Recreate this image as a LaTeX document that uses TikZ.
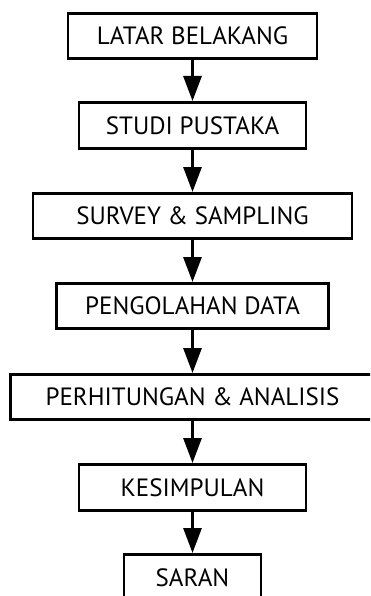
\documentclass[tikz,border=0pt]{standalone}
\usepackage{fontspec}
\setmainfont{PT Sans}
\usetikzlibrary{arrows.meta}
\begin{document}
\begin{tikzpicture}[x=1pt,y=-1pt,
  box/.style={draw=black,line width=2.8pt,rectangle,inner sep=0pt,anchor=north,font=\fontsize{25}{28}\selectfont},
  arr/.style={line width=3pt,-{Triangle[width=18pt,length=25pt]},shorten >=0pt}]
\useasboundingbox (0,0) rectangle (370,596);
\clip (0,0) rectangle (370,596);
\node[box,minimum width=249pt,minimum height=45pt] (n1) at (192.5,12) {LATAR BELAKANG};
\node[box,minimum width=227pt,minimum height=46pt] (n2) at (192.5,101) {STUDI PUSTAKA};
\node[box,minimum width=319pt,minimum height=45pt] (n3) at (192.5,192) {SURVEY \& SAMPLING};
\node[box,minimum width=272pt,minimum height=45pt] (n4) at (192.5,282) {PENGOLAHAN DATA};
\node[box,minimum width=364pt,minimum height=45pt] (n5) at (192.5,373) {PERHITUNGAN \& ANALISIS};
\node[box,minimum width=227pt,minimum height=46pt] (n6) at (192.5,463) {KESIMPULAN};
\node[box,minimum width=137pt,minimum height=47pt] (n7) at (192.5,553) {SARAN};
\draw[arr] (n1.south) -- (n2.north);
\draw[arr] (n2.south) -- (n3.north);
\draw[arr] (n3.south) -- (n4.north);
\draw[arr] (n4.south) -- (n5.north);
\draw[arr] (n5.south) -- (n6.north);
\draw[arr] (n6.south) -- (n7.north);
\end{tikzpicture}
\end{document}
